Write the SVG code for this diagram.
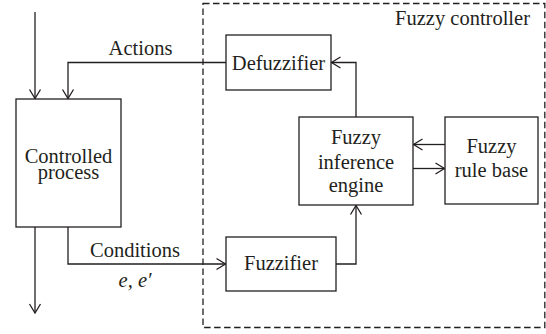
<svg xmlns="http://www.w3.org/2000/svg" width="546" height="334" viewBox="0 0 546 334">
<defs>
<style>
.box{fill:#fff;stroke:#231f20;stroke-width:1.3}
.ln{fill:none;stroke:#231f20;stroke-width:1.3}
.t{font-family:'Liberation Serif','DejaVu Serif',serif;font-size:20.5px;fill:#231f20;text-anchor:middle}
.it{font-style:italic}
</style>
<marker id="ah" viewBox="-10 -7 12 14" markerWidth="12" markerHeight="14" refX="0" refY="0" orient="auto" markerUnits="userSpaceOnUse">
<path d="M-9,-5.5 L0,0 L-9,5.5" fill="none" stroke="#231f20" stroke-width="1.3"/>
</marker>
</defs>
<rect id="frame" x="203" y="3.5" width="341.8" height="324" fill="none" stroke="#231f20" stroke-width="1.3" stroke-dasharray="6.5 3.5"/>
<text class="t" font-family="Liberation Serif, serif" x="530" y="25" text-anchor="end" style="text-anchor:end">Fuzzy controller</text>
<g id="connectors">
<path class="ln" d="M35,12 V98.5" marker-end="url(#ah)"/>
<path class="ln" d="M226,62.5 H68 V98.5" marker-end="url(#ah)"/>
<path class="ln" d="M35,227 V313" marker-end="url(#ah)"/>
<path class="ln" d="M68,227 V264 H225.5" marker-end="url(#ah)"/>
<path class="ln" d="M336,264 H356 V205.5" marker-end="url(#ah)"/>
<path class="ln" d="M356,117 V62.5 H331.5" marker-end="url(#ah)"/>
<path class="ln" d="M445,144.5 H413.5" marker-end="url(#ah)"/>
<path class="ln" d="M413,168.5 H444.5" marker-end="url(#ah)"/>
<text class="t" font-family="Liberation Serif, serif" x="140.5" y="55">Actions</text>
<text class="t" font-family="Liberation Serif, serif" x="135" y="257">Conditions</text>
<text class="t it" font-family="Liberation Serif, serif" x="135" y="287">e, e′</text>
</g>
<g id="process">
<rect class="box" x="16" y="99" width="105" height="128"/>
<text class="t" font-family="Liberation Serif, serif" x="68.5" y="162.5">Controlled</text>
<text class="t" font-family="Liberation Serif, serif" x="68.5" y="179">process</text>
</g>
<g id="defuzzifier">
<rect class="box" x="226" y="35" width="105" height="55"/>
<text class="t" font-family="Liberation Serif, serif" x="278.5" y="70">Defuzzifier</text>
</g>
<g id="fuzzifier">
<rect class="box" x="226" y="237" width="110" height="54"/>
<text class="t" font-family="Liberation Serif, serif" x="281" y="270">Fuzzifier</text>
</g>
<g id="inference">
<rect class="box" x="299" y="117" width="114" height="88"/>
<text class="t" font-family="Liberation Serif, serif" x="356" y="144">Fuzzy</text>
<text class="t" font-family="Liberation Serif, serif" x="356" y="169">inference</text>
<text class="t" font-family="Liberation Serif, serif" x="356" y="192">engine</text>
</g>
<g id="rulebase">
<rect class="box" x="445" y="117" width="93" height="87"/>
<text class="t" font-family="Liberation Serif, serif" x="491.5" y="153">Fuzzy</text>
<text class="t" font-family="Liberation Serif, serif" x="491.5" y="177">rule base</text>
</g>
</svg>
